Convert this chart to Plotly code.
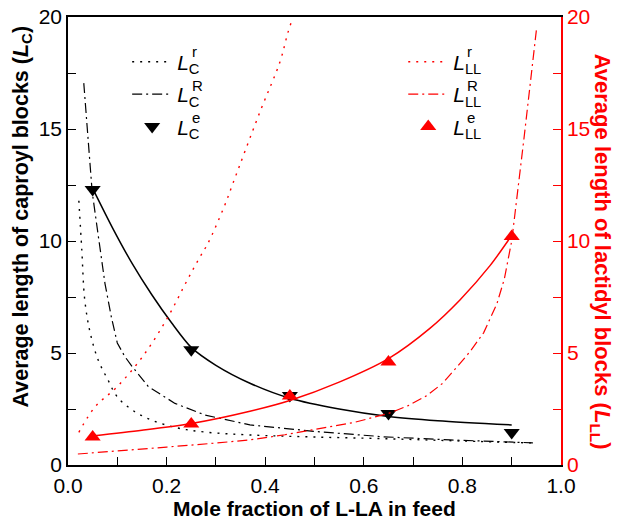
import plotly.graph_objects as go

# ---- data ----
x_exp = [0.05, 0.25, 0.45, 0.65, 0.90]
LC_exp = [12.3, 5.15, 3.1, 2.3, 1.45]
LLL_exp = [1.25, 1.83, 3.08, 4.6, 10.2]

x_LC_fit = [0.05, 0.09, 0.13, 0.17, 0.21, 0.25, 0.30, 0.369, 0.45, 0.55, 0.65, 0.75, 0.9]
LC_fit = [12.35, 10.6, 9.0, 7.6, 6.35, 5.25, 4.45, 3.65, 2.98, 2.5, 2.17, 1.98, 1.79]

x_LLL_fit = [0.05, 0.15, 0.25, 0.369, 0.45, 0.55, 0.65, 0.734, 0.795, 0.856, 0.9]
LLL_fit = [1.3, 1.55, 1.85, 2.4, 2.88, 3.7, 4.75, 6.1, 7.37, 8.9, 10.25]

x_LC_r = [0.022, 0.028, 0.034, 0.045, 0.061, 0.081, 0.1, 0.13, 0.17, 0.223, 0.278, 0.37, 0.5, 0.65, 0.8, 0.95]
LC_r = [11.8, 9.6, 7.37, 5.9, 4.7, 3.8, 3.04, 2.46, 2.0, 1.65, 1.47, 1.34, 1.25, 1.17, 1.07, 0.98]

x_LC_R = [0.032, 0.04, 0.049, 0.061, 0.075, 0.088, 0.1, 0.115, 0.13, 0.163, 0.217, 0.278, 0.369, 0.505, 0.64, 0.775, 0.943]
LC_R = [17.05, 14.6, 12.2, 10.3, 8.1, 6.6, 5.45, 4.85, 4.4, 3.5, 2.75, 2.23, 1.79, 1.49, 1.26, 1.12, 0.99]

x_LLL_r = [0.022, 0.055, 0.1, 0.15, 0.2, 0.243, 0.268, 0.284, 0.318, 0.335, 0.39, 0.43, 0.446, 0.455]
LLL_r = [1.46, 2.6, 3.5, 4.8, 6.5, 8.3, 9.3, 9.9, 11.6, 12.6, 15.8, 18.0, 19.3, 19.9]

x_LLL_R = [0.02, 0.1, 0.2, 0.3, 0.369, 0.44, 0.505, 0.58, 0.65, 0.69, 0.728, 0.76, 0.79, 0.815, 0.843, 0.87,
           0.885, 0.9, 0.925, 0.95]
LLL_R = [0.49, 0.62, 0.8, 0.98, 1.12, 1.35, 1.6, 1.9, 2.3, 2.65, 3.1, 3.65, 4.4, 5.05, 5.9, 7.2,
         8.3, 10.0, 14.6, 19.4]

x_ticks = [0.0, 0.2, 0.4, 0.6, 0.8, 1.0]
x_ticklabels = ["0.0", "0.2", "0.4", "0.6", "0.8", "1.0"]
y_ticks = [0, 5, 10, 15, 20]

legend_sups = ["r", "R", "e"]

RED = "#ff0000"
FONT = "Liberation Sans, Arial, sans-serif"
DOT = "2px,6px"
DASHDOT = "10px,4px,2px,4px"

fig = go.Figure()

# left legend (caproyl)
fig.add_trace(go.Scatter(x=x_LC_r, y=LC_r, mode="lines", line=dict(color="black", width=1.4, dash=DOT, shape="spline"),
                         name="<i>L</i><sub>C</sub>", legend="legend", legendgroup="a"))
fig.add_trace(go.Scatter(x=x_LC_R, y=LC_R, mode="lines", line=dict(color="black", width=1.2, dash=DASHDOT),
                         name="<i>L</i><sub>C</sub>", legend="legend", legendgroup="b"))
fig.add_trace(go.Scatter(x=x_exp, y=LC_exp, mode="markers", marker=dict(symbol="triangle-down", size=14, color="black"),
                         name="<i>L</i><sub>C</sub>", legend="legend", legendgroup="c"))
fig.add_trace(go.Scatter(x=x_LC_fit, y=LC_fit, mode="lines", line=dict(color="black", width=1.5, shape="spline", smoothing=0.8),
                         showlegend=False))

# right legend (lactidyl)
fig.add_trace(go.Scatter(x=x_LLL_r, y=LLL_r, mode="lines", yaxis="y2", line=dict(color=RED, width=1.4, dash=DOT, shape="spline"),
                         name="<i>L</i><sub>LL</sub>", legend="legend2", legendgroup="d"))
fig.add_trace(go.Scatter(x=x_LLL_R, y=LLL_R, mode="lines", yaxis="y2", line=dict(color=RED, width=1.2, dash=DASHDOT),
                         name="<i>L</i><sub>LL</sub>", legend="legend2", legendgroup="e"))
fig.add_trace(go.Scatter(x=x_exp, y=LLL_exp, mode="markers", yaxis="y2", marker=dict(symbol="triangle-up", size=14, color=RED),
                         name="<i>L</i><sub>LL</sub>", legend="legend2", legendgroup="f"))
fig.add_trace(go.Scatter(x=x_LLL_fit, y=LLL_fit, mode="lines", yaxis="y2", line=dict(color=RED, width=1.5, shape="spline", smoothing=0.8),
                         showlegend=False))

leg_common = dict(bgcolor="rgba(0,0,0,0)", borderwidth=0, font=dict(family=FONT, size=21, color="black"),
                  tracegroupgap=2, itemwidth=40, xanchor="left", yanchor="top")

annotations = [
    dict(text="<b>Average length of lactidyl blocks (<i>L</i><sub>LL</sub>)</b>", xref="paper", yref="paper",
         x=1.08, y=0.475, textangle=90, showarrow=False, font=dict(family=FONT, size=22, color=RED),
         xanchor="center", yanchor="middle"),
    dict(text="<b>Average length of caproyl blocks (<i>L</i><sub>C</sub>)</b>", xref="paper", yref="paper",
         x=-0.093, y=0.555, textangle=-90, showarrow=False, font=dict(family=FONT, size=21.5, color="black"),
         xanchor="center", yanchor="middle"),
    dict(text="<b>Mole fraction of L-LA in feed</b>", xref="paper", yref="paper",
         x=0.5, y=-0.098, showarrow=False, font=dict(family=FONT, size=21, color="black"),
         xanchor="center", yanchor="middle"),
]
sup_y = [0.922, 0.848, 0.775]
for s, yy in zip(legend_sups, sup_y):
    for xx in (0.247, 0.805):
        annotations.append(dict(text=s, xref="paper", yref="paper", x=xx, y=yy, showarrow=False,
                                xanchor="left", yanchor="middle", font=dict(family=FONT, size=15, color="black")))

fig.update_layout(
    width=619, height=520,
    margin=dict(l=68, r=58, t=17, b=55, autoexpand=False),
    plot_bgcolor="white", paper_bgcolor="white",
    font=dict(family=FONT, size=21, color="black"),
    showlegend=True,
    legend=dict(x=0.12, y=0.945, **leg_common),
    legend2=dict(x=0.68, y=0.945, **leg_common),
    xaxis=dict(range=[0, 1.0], tickvals=x_ticks, ticktext=x_ticklabels, ticks="inside", ticklen=8,
               tickwidth=1.2, tickcolor="black", showline=True, linecolor="black", linewidth=1.5,
               mirror=True, showgrid=False, zeroline=False, automargin=False, ticklabelstandoff=1,
               minor=dict(dtick=0.1, ticks="inside", ticklen=8, tickwidth=1.2, tickcolor="black"),
               tickfont=dict(size=21)),
    yaxis=dict(range=[0, 20], tickvals=y_ticks, ticks="inside", ticklen=8, tickwidth=1.2, tickcolor="black",
               showline=True, linecolor="black", linewidth=1.5, showgrid=False, zeroline=False, automargin=False,
               minor=dict(dtick=2.5, ticks="inside", ticklen=8, tickwidth=1.2, tickcolor="black"),
               tickfont=dict(size=21)),
    yaxis2=dict(range=[0, 20], tickvals=y_ticks, overlaying="y", side="right", ticks="inside", ticklen=8,
                tickwidth=1.2, tickcolor=RED, showline=True, linecolor=RED, linewidth=1.5, showgrid=False,
                zeroline=False, automargin=False,
                minor=dict(dtick=2.5, ticks="inside", ticklen=8, tickwidth=1.2, tickcolor=RED),
                tickfont=dict(size=21, color=RED)),
    annotations=annotations,
)

fig.write_html("out.html")
